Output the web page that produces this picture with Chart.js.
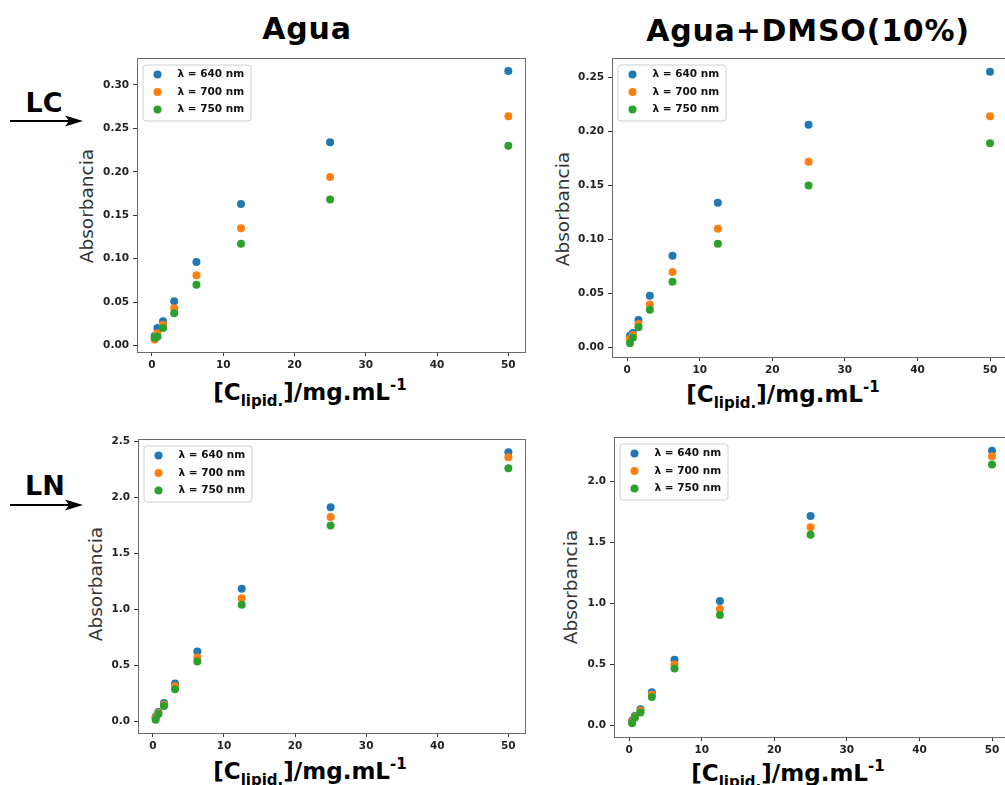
<!DOCTYPE html>
<html>
<head>
<meta charset="utf-8">
<script src="https://cdn.jsdelivr.net/npm/chart.js@4.4.1/dist/chart.umd.min.js"></script>
<style>
  html, body { margin:0; padding:0; width:1005px; height:785px; overflow:hidden; background:#fff; position:relative; font-family:"DejaVu Sans", sans-serif; }
  .panel { position:absolute; }
  .txt { position:absolute; white-space:nowrap; color:#000; transform:translate(-50%,-50%); }
  .title { font-weight:bold; font-size:30px; letter-spacing:0.8px; }
  .xlab { font-weight:bold; font-size:23px; }
  .xlab sub { font-size:15px; vertical-align:-6px; line-height:0; }
  .xlab sup { font-size:15px; vertical-align:10px; line-height:0; }
  .ylab { font-size:18.5px; color:#333; transform:translate(-50%,-50%) rotate(-90deg); }
  .tag { font-weight:bold; font-size:27px; }
  .arrow { position:absolute; }
</style>
</head>
<body>
<div class="txt title" style="left:307px; top:28px;">Agua</div>
<div class="txt title" style="left:808px; top:30px;">Agua+DMSO(10%)</div>

<div class="txt tag" style="left:44px; top:102px;">LC</div>
<div class="txt tag" style="left:45px; top:485px;">LN</div>
<svg class="arrow" style="left:0; top:110px;" width="90" height="22"><line x1="10" y1="11" x2="72" y2="11" stroke="#000" stroke-width="2"/><polygon points="83,11 65,5.5 69,11 65,16.5" fill="#000"/></svg>
<svg class="arrow" style="left:0; top:494px;" width="90" height="22"><line x1="10" y1="11" x2="72" y2="11" stroke="#000" stroke-width="2"/><polygon points="83,11 65,5.5 69,11 65,16.5" fill="#000"/></svg>

<div class="txt ylab" style="left:86px; top:206px;">Absorbancia</div>
<div class="txt ylab" style="left:562px; top:209px;">Absorbancia</div>
<div class="txt ylab" style="left:95px; top:584px;">Absorbancia</div>
<div class="txt ylab" style="left:570px; top:587px;">Absorbancia</div>

<div class="txt xlab" style="left:310px; top:392px;">[C<sub>lipid.</sub>]/mg.mL<sup>-1</sup></div>
<div class="txt xlab" style="left:783px; top:394px;">[C<sub>lipid.</sub>]/mg.mL<sup>-1</sup></div>
<div class="txt xlab" style="left:310px; top:771px;">[C<sub>lipid.</sub>]/mg.mL<sup>-1</sup></div>
<div class="txt xlab" style="left:788px; top:773px;">[C<sub>lipid.</sub>]/mg.mL<sup>-1</sup></div>

<script>
// ---- data ----
const conc = [0.39, 0.78, 1.56, 3.125, 6.25, 12.5, 25, 50];
const seriesLabels = ['λ = 640 nm', 'λ = 700 nm', 'λ = 750 nm'];
const seriesColors = ['#1f77b4', '#ff7f0e', '#2ca02c'];

const lcAgua640 = [0.011, 0.020, 0.028, 0.051, 0.096, 0.163, 0.234, 0.316];
const lcAgua700 = [0.007, 0.014, 0.024, 0.043, 0.081, 0.135, 0.194, 0.264];
const lcAgua750 = [0.009, 0.010, 0.020, 0.037, 0.070, 0.117, 0.168, 0.230];

const lcDmso640 = [0.011, 0.0135, 0.0255, 0.048, 0.085, 0.134, 0.206, 0.255];
const lcDmso700 = [0.008, 0.0117, 0.022, 0.040, 0.070, 0.110, 0.172, 0.214];
const lcDmso750 = [0.004, 0.0092, 0.019, 0.035, 0.061, 0.096, 0.150, 0.189];

const lnAgua640 = [0.036, 0.081, 0.161, 0.335, 0.622, 1.181, 1.911, 2.401];
const lnAgua700 = [0.024, 0.072, 0.146, 0.311, 0.568, 1.097, 1.824, 2.356];
const lnAgua750 = [0.012, 0.063, 0.135, 0.284, 0.532, 1.038, 1.746, 2.258];

const lnDmso640 = [0.036, 0.074, 0.129, 0.269, 0.536, 1.019, 1.717, 2.253];
const lnDmso700 = [0.027, 0.066, 0.118, 0.250, 0.497, 0.953, 1.624, 2.206];
const lnDmso750 = [0.014, 0.060, 0.104, 0.231, 0.464, 0.904, 1.563, 2.140];

const xTicks = [0, 10, 20, 30, 40, 50];
const yTicksLcAgua = [0, 0.05, 0.10, 0.15, 0.20, 0.25, 0.30];
const yTicksLcDmso = [0, 0.05, 0.10, 0.15, 0.20, 0.25];
const yTicksLnAgua = [0, 0.5, 1.0, 1.5, 2.0, 2.5];
const yTicksLnDmso = [0, 0.5, 1.0, 1.5, 2.0];

// ---- drawing ----
const FONT = '"DejaVu Sans", sans-serif';
const Y_AXIS_W = 60, X_AXIS_H = 30, PAD_TOP = 12;

const framePlugin = {
  id: 'frameLegend',
  afterDraw(chart) {
    const a = chart.chartArea, ctx = chart.ctx;
    ctx.save();
    ctx.strokeStyle = '#6a6a6a';
    ctx.lineWidth = 1;
    ctx.strokeRect(Math.round(a.left) + 0.5, Math.round(a.top) + 0.5, Math.round(a.right - a.left) - 1, Math.round(a.bottom - a.top));
    // legend
    const bx = a.left + 5.5, by = a.top + 6.5, bw = 108, bh = 56;
    ctx.fillStyle = 'rgba(255,255,255,0.85)';
    ctx.strokeStyle = '#d0d0d0';
    ctx.beginPath();
    if (ctx.roundRect) ctx.roundRect(bx + 0.5, by + 0.5, bw, bh, 3); else ctx.rect(bx + 0.5, by + 0.5, bw, bh);
    ctx.fill(); ctx.stroke();
    ctx.font = 'bold 10.5px ' + FONT;
    ctx.textBaseline = 'middle';
    chart.data.datasets.forEach((ds, i) => {
      const yy = by + 10 + i * 17.5;
      ctx.fillStyle = ds.backgroundColor;
      ctx.beginPath(); ctx.arc(bx + 15, yy, 4, 0, Math.PI * 2); ctx.fill();
      ctx.fillStyle = '#111';
      ctx.fillText(ds.label, bx + 35, yy);
    });
    ctx.restore();
  }
};

function makePanel(area, ys, xRange, yRange, yTicks, decimals) {
  const div = document.createElement('div');
  div.className = 'panel';
  const w = area.r - area.l + Y_AXIS_W, h = area.b - area.t + PAD_TOP + X_AXIS_H;
  div.style.left = (area.l - Y_AXIS_W) + 'px';
  div.style.top = (area.t - PAD_TOP) + 'px';
  div.style.width = w + 'px';
  div.style.height = h + 'px';
  const cv = document.createElement('canvas');
  div.appendChild(cv);
  document.body.appendChild(div);
  new Chart(cv, {
    type: 'scatter',
    data: {
      datasets: ys.map((arr, i) => ({
        label: seriesLabels[i],
        data: conc.map((x, k) => ({ x: x, y: arr[k] })),
        backgroundColor: seriesColors[i],
        borderColor: seriesColors[i],
        borderWidth: 0,
        pointRadius: 4,
        pointHoverRadius: 4,
        order: 3 - i
      }))
    },
    options: {
      responsive: true,
      maintainAspectRatio: false,
      animation: false,
      devicePixelRatio: 1,
      layout: { padding: { top: PAD_TOP, left: 0, right: 0, bottom: 0 } },
      plugins: { legend: { display: false }, tooltip: { enabled: false } },
      scales: {
        x: {
          type: 'linear', min: xRange[0], max: xRange[1],
          afterFit: s => { s.height = X_AXIS_H; },
          afterBuildTicks: s => { s.ticks = xTicks.map(v => ({ value: v })); },
          grid: { drawOnChartArea: false, drawTicks: true, tickLength: 4, color: '#333', tickWidth: 1 },
          border: { display: false },
          ticks: { includeBounds: false, padding: 3, color: '#222', font: { family: FONT, size: 10.5, weight: 'bold' }, maxRotation: 0, callback: v => String(v) }
        },
        y: {
          type: 'linear', min: yRange[0], max: yRange[1],
          afterFit: s => { s.width = Y_AXIS_W; },
          afterBuildTicks: s => { s.ticks = yTicks.map(v => ({ value: v })); },
          grid: { drawOnChartArea: false, drawTicks: true, tickLength: 4, color: '#333', tickWidth: 1 },
          border: { display: false },
          ticks: { includeBounds: false, padding: 4, color: '#222', font: { family: FONT, size: 10.5, weight: 'bold' }, callback: v => Number(v).toFixed(decimals) }
        }
      }
    },
    plugins: [framePlugin]
  });
}

const xr = [-2.09, 52.48];
makePanel({ l: 137, t: 58, r: 530, b: 352 }, [lcAgua640, lcAgua700, lcAgua750], xr, [-0.0075, 0.331], yTicksLcAgua, 2);
makePanel({ l: 612, t: 58, r: 1012, b: 357 }, [lcDmso640, lcDmso700, lcDmso750], xr, [-0.0086, 0.2678], yTicksLcDmso, 2);
makePanel({ l: 138, t: 439, r: 530, b: 733 }, [lnAgua640, lnAgua700, lnAgua750], xr, [-0.107, 2.52], yTicksLnAgua, 1);
makePanel({ l: 614, t: 437, r: 1014, b: 737 }, [lnDmso640, lnDmso700, lnDmso750], xr, [-0.098, 2.365], yTicksLnDmso, 1);
</script>
</body>
</html>
